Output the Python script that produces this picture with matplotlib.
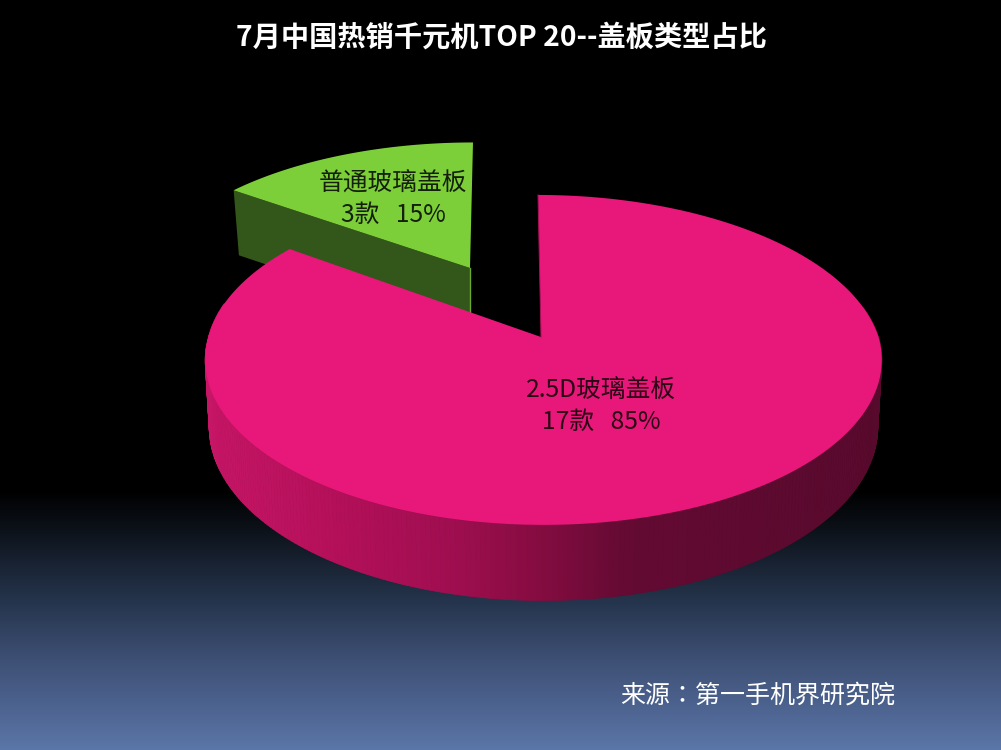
import numpy as np
import matplotlib
matplotlib.use("Agg")
import matplotlib.pyplot as plt
from matplotlib.colors import to_rgb
from matplotlib.collections import PolyCollection
from matplotlib.patches import Polygon

plt.rcParams["font.family"] = ["Noto Sans CJK SC", "DejaVu Sans"]

title = "7月中国热销千元机TOP 20--盖板类型占比"
source = "来源：第一手机界研究院"
names = ["2.5D玻璃盖板", "普通玻璃盖板"]
counts = [17, 3]

bg_stops = [0, 490, 525, 600, 660, 750]
bg_colors = ["#000000", "#000000", "#0b1017", "#25344c", "#3e5075", "#5b76a9"]
wall_stops = [205, 330, 450, 540, 625, 880]
wall_colors = ["#c61666", "#b5105a", "#a00e50", "#850c40", "#640a33", "#580a2d"]


def interp_colors(pos, stops, colors):
    rgb = np.array([to_rgb(c) for c in colors])
    return np.stack([np.interp(pos, stops, rgb[:, i]) for i in range(3)], axis=-1)


def disc(theta, cx, cy, rx, ry, k=0.139):
    # theta runs clockwise from the top, k gives the perspective
    u, v = np.sin(theta), np.cos(theta)
    w = 1 + k * v
    return cx + rx * u / w, cy - ry * v / w


def pink_shift(theta):
    # the drawn ellipse sits a little right of the apex, except near the top
    return 2.5 - 5.5 * np.maximum(np.cos(theta), 0)


def green_shift(theta):
    return 3 * np.maximum((np.cos(theta) - 0.6) / 0.4, 0)


fig = plt.figure(figsize=(10.01, 7.5), dpi=100)
ax = fig.add_axes([0, 0, 1, 1])

rows = np.arange(750)
gradient = interp_colors(rows, bg_stops, bg_colors)[:, None, :]
ax.imshow(gradient, extent=(0, 1001, 750, 0), aspect="auto", zorder=0)

total = sum(counts)
edges = np.r_[0, np.cumsum(counts)] / total * 2 * np.pi

# green slice, exploded towards the upper left
gx, gy, grx, gry, gdepth = 470, 268, 316, 143, 65
t_green = np.linspace(edges[1], edges[2], 80)
ax_g, ay_g = disc(t_green, gx, gy, grx, gry)
ax_g = ax_g + green_shift(t_green)
bx, by = disc(edges[1], gx, gy + gdepth, grx - 7, gry)
ax.add_patch(Polygon([(ax_g[0], ay_g[0]), (gx, gy), (gx, gy + gdepth), (bx, by)], fc="#33561a", ec="none", zorder=2))
ax.plot([gx, gx], [gy, gy + gdepth], color="#6aa832", lw=1, zorder=2)
ax.add_patch(Polygon(np.column_stack([np.r_[gx, ax_g], np.r_[gy, ay_g]]), fc="#7dcf3a", ec="none", zorder=3))

# pink slice, only the front of the outer wall can be seen
px, py, prx, pry = 541, 337, 335, 161.8
bdx, bdy, brx, bry = 541, 403, 331, 170
t_pink = np.linspace(edges[0], edges[1], 400)
tx, ty = disc(t_pink, px, py, prx, pry)
tx = tx + pink_shift(t_pink)
ox, oy = disc(t_pink, bdx, bdy, brx, bry)
ox = ox + pink_shift(t_pink)
front = [i for i in range(len(t_pink) - 1) if np.cos(t_pink[i]) < 0.2]
quads = [[(tx[i], ty[i]), (tx[i + 1], ty[i + 1]), (ox[i + 1], oy[i + 1]), (ox[i], oy[i])] for i in front]
wall_rgb = interp_colors((tx[front] + tx[np.array(front) + 1]) / 2, wall_stops, wall_colors)
ax.add_collection(PolyCollection(quads, facecolors=wall_rgb, edgecolors=wall_rgb, linewidths=0.6, zorder=4))
ax.add_patch(Polygon(np.column_stack([np.r_[px, tx], np.r_[py, ty]]), fc="#e8177a", ec="none", zorder=5))
ax.plot([tx[0], px], [ty[0], py], color="#a8105a", lw=0.7, zorder=5)

pct = [round(c / total * 100) for c in counts]
ax.text(601, 406, f"{names[0]}\n{counts[0]}款   {pct[0]}%", color="#2a0515", fontsize=17.8,
        ha="center", va="center", linespacing=1.25, zorder=6)
ax.text(393, 199, f"{names[1]}\n{counts[1]}款   {pct[1]}%", color="#14200a", fontsize=17.8,
        ha="center", va="center", linespacing=1.25, zorder=6)

ax.text(501, 38, title, color="white", fontsize=20.3, fontweight="bold", ha="center", va="center", zorder=6)
ax.text(758, 696, source, color="white", fontsize=18, family=["Noto Sans CJK TC", "DejaVu Sans"],
        ha="center", va="center", zorder=6)

ax.set_xlim(0, 1001)
ax.set_ylim(750, 0)
ax.axis("off")
fig.savefig("out.png", dpi=100)
